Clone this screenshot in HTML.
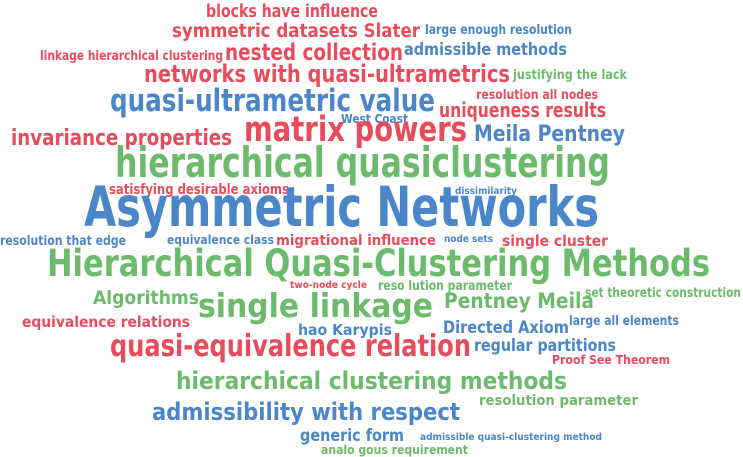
<!DOCTYPE html>
<html><head><meta charset="utf-8"><style>
html,body{margin:0;padding:0;background:#fff;width:743px;height:457px;overflow:hidden}
svg text{font-family:"DejaVu Sans","Liberation Sans",sans-serif;font-weight:bold}
.r{fill:#e84c5c}.b{fill:#4a86c8}.g{fill:#6cbb6c}
</style></head><body>
<svg width="743" height="457" viewBox="0 0 743 457" xmlns="http://www.w3.org/2000/svg">
<g>
<text class="r" x="206" y="17" font-size="17.5" textLength="172" lengthAdjust="spacingAndGlyphs">blocks have influence</text>
<text class="r" x="172" y="37" font-size="18.5" textLength="248" lengthAdjust="spacingAndGlyphs">symmetric datasets Slater</text>
<text class="b" x="425" y="34" font-size="13" textLength="147" lengthAdjust="spacingAndGlyphs">large enough resolution</text>
<text class="r" x="40" y="60" font-size="13" textLength="183" lengthAdjust="spacingAndGlyphs">linkage hierarchical clustering</text>
<text class="r" x="225" y="60" font-size="23" textLength="178" lengthAdjust="spacingAndGlyphs">nested collection</text>
<text class="b" x="404" y="55" font-size="16.5" textLength="163" lengthAdjust="spacingAndGlyphs">admissible methods</text>
<text class="r" x="144" y="82" font-size="24" textLength="366" lengthAdjust="spacingAndGlyphs">networks with quasi-ultrametrics</text>
<text class="g" x="513" y="79" font-size="13" textLength="114" lengthAdjust="spacingAndGlyphs">justifying the lack</text>
<text class="b" x="110" y="111" font-size="31" textLength="325" lengthAdjust="spacingAndGlyphs">quasi-ultrametric value</text>
<text class="r" x="476" y="99" font-size="13" textLength="122" lengthAdjust="spacingAndGlyphs">resolution all nodes</text>
<text class="r" x="439" y="117" font-size="20" textLength="167" lengthAdjust="spacingAndGlyphs">uniqueness results</text>
<text class="b" x="341" y="123" font-size="12" textLength="67" lengthAdjust="spacingAndGlyphs">West Coast</text>
<text class="r" x="244" y="141" font-size="35" textLength="223" lengthAdjust="spacingAndGlyphs">matrix powers</text>
<text class="b" x="474" y="141" font-size="22" textLength="151" lengthAdjust="spacingAndGlyphs">Meila Pentney</text>
<text class="r" x="11" y="145" font-size="22" textLength="221" lengthAdjust="spacingAndGlyphs">invariance properties</text>
<text class="g" x="115" y="177" font-size="42" textLength="495" lengthAdjust="spacingAndGlyphs">hierarchical quasiclustering</text>
<text class="r" x="109" y="194" font-size="14" textLength="180" lengthAdjust="spacingAndGlyphs">satisfying desirable axioms</text>
<text class="b" x="455" y="194" font-size="10" textLength="62" lengthAdjust="spacingAndGlyphs">dissimilarity</text>
<text class="b" x="84" y="226" font-size="55" textLength="515" lengthAdjust="spacingAndGlyphs">Asymmetric Networks</text>
<text class="b" x="0" y="245" font-size="13" textLength="126" lengthAdjust="spacingAndGlyphs">resolution that edge</text>
<text class="b" x="167" y="244" font-size="12" textLength="107" lengthAdjust="spacingAndGlyphs">equivalence class</text>
<text class="r" x="276" y="245" font-size="14.5" textLength="160" lengthAdjust="spacingAndGlyphs">migrational influence</text>
<text class="b" x="444" y="242" font-size="10" textLength="49" lengthAdjust="spacingAndGlyphs">node sets</text>
<text class="r" x="502" y="246" font-size="15.5" textLength="106" lengthAdjust="spacingAndGlyphs">single cluster</text>
<text class="g" x="47" y="276" font-size="37" textLength="663" lengthAdjust="spacingAndGlyphs">Hierarchical Quasi-Clustering Methods</text>
<text class="r" x="290" y="288" font-size="10" textLength="77" lengthAdjust="spacingAndGlyphs">two-node cycle</text>
<text class="g" x="378" y="290" font-size="13" textLength="134" lengthAdjust="spacingAndGlyphs">reso lution parameter</text>
<text class="g" x="585" y="297" font-size="13" textLength="156" lengthAdjust="spacingAndGlyphs">set theoretic construction</text>
<text class="g" x="93" y="304" font-size="19" textLength="106" lengthAdjust="spacingAndGlyphs">Algorithms</text>
<text class="g" x="198" y="317" font-size="33" textLength="235" lengthAdjust="spacingAndGlyphs">single linkage</text>
<text class="g" x="444" y="308" font-size="21" textLength="150" lengthAdjust="spacingAndGlyphs">Pentney Meila</text>
<text class="r" x="22" y="327" font-size="15.5" textLength="168" lengthAdjust="spacingAndGlyphs">equivalence relations</text>
<text class="b" x="569" y="325" font-size="13" textLength="110" lengthAdjust="spacingAndGlyphs">large all elements</text>
<text class="b" x="298" y="335" font-size="15.5" textLength="94" lengthAdjust="spacingAndGlyphs">hao Karypis</text>
<text class="b" x="443" y="333" font-size="16.5" textLength="126" lengthAdjust="spacingAndGlyphs">Directed Axiom</text>
<text class="r" x="110" y="356" font-size="30" textLength="361" lengthAdjust="spacingAndGlyphs">quasi-equivalence relation</text>
<text class="b" x="474" y="351" font-size="16.5" textLength="142" lengthAdjust="spacingAndGlyphs">regular partitions</text>
<text class="r" x="552" y="364" font-size="12" textLength="118" lengthAdjust="spacingAndGlyphs">Proof See Theorem</text>
<text class="g" x="176" y="389" font-size="24" textLength="391" lengthAdjust="spacingAndGlyphs">hierarchical clustering methods</text>
<text class="g" x="479" y="405" font-size="14.5" textLength="159" lengthAdjust="spacingAndGlyphs">resolution parameter</text>
<text class="b" x="152" y="420" font-size="24" textLength="308" lengthAdjust="spacingAndGlyphs">admissibility with respect</text>
<text class="b" x="300" y="441" font-size="16.5" textLength="104" lengthAdjust="spacingAndGlyphs">generic form</text>
<text class="b" x="420" y="440" font-size="10" textLength="182" lengthAdjust="spacingAndGlyphs">admissible quasi-clustering method</text>
<text class="g" x="321" y="454" font-size="12" textLength="147" lengthAdjust="spacingAndGlyphs">analo gous requirement</text>
</g>
</svg>
</body></html>
